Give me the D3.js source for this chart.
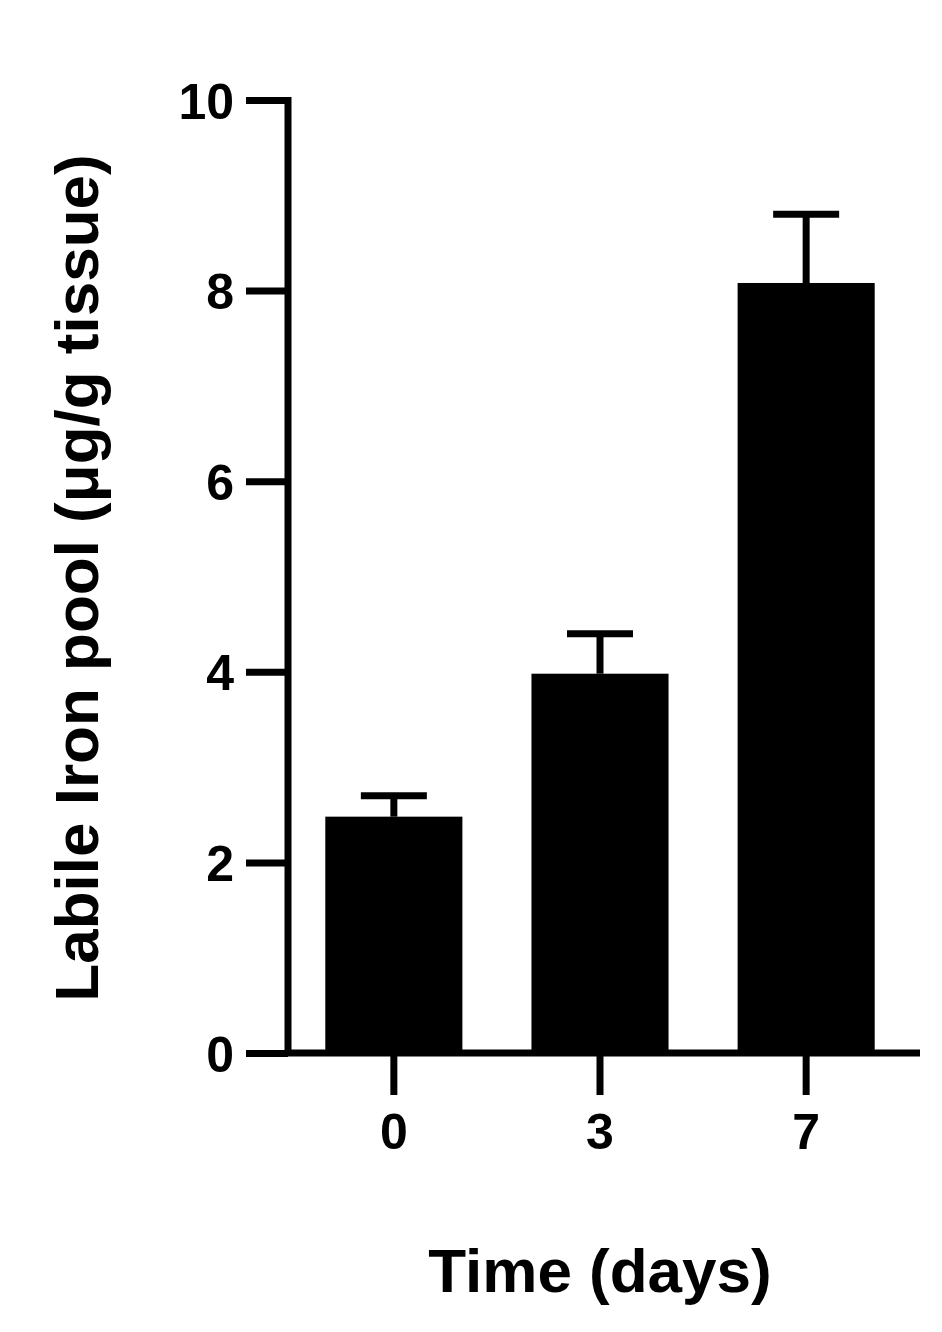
<!DOCTYPE html>
<html><head><meta charset="utf-8">
<script src="https://cdn.jsdelivr.net/npm/d3@7"></script>
<style>body{margin:0;background:#fff}</style>
</head><body>
<svg id="c" width="942" height="1332"></svg>
<script>
const categories = ["0","3","7"];
const means = [2.48, 3.98, 8.08];
const errs = [0.22, 0.42, 0.72];
const yTicks = [0,2,4,6,8,10];

const svg = d3.select("#c");
const font = "'Liberation Sans', Arial, sans-serif";
const y = d3.scaleLinear().domain([0,10]).range([1053,100]);
const x = d3.scaleBand().domain(categories).range([315,885]).paddingInner(0.335).paddingOuter(0.05);
const lw = 7;

const g = svg.append("g");
// bars
g.selectAll("rect.bar").data(categories).join("rect")
  .attr("x", d=>x(d)).attr("width", x.bandwidth())
  .attr("y", (d,i)=>y(means[i])).attr("height",(d,i)=>y(0)-y(means[i]))
  .attr("fill","#000");
// error bars
categories.forEach((c,i)=>{
  const cx = x(c)+x.bandwidth()/2;
  g.append("line").attr("x1",cx).attr("x2",cx).attr("y1",y(means[i])).attr("y2",y(means[i]+errs[i]))
    .attr("stroke","#000").attr("stroke-width",lw);
  g.append("line").attr("x1",cx-33).attr("x2",cx+33).attr("y1",y(means[i]+errs[i])).attr("y2",y(means[i]+errs[i]))
    .attr("stroke","#000").attr("stroke-width",lw);
});
// y axis
const ya = svg.append("g").attr("transform","translate(288,0)")
  .call(d3.axisLeft(y).tickValues(yTicks).tickSize(42).tickPadding(12));
ya.select(".domain").attr("d",`M0,${y(10)-3}V${y(0)+3}`);
// x axis
const xa = svg.append("g").attr("transform","translate(0,1053)")
  .call(d3.axisBottom(x).tickSize(42).tickPadding(18));
xa.select(".domain").attr("d","M285,0H920");
[ya,xa].forEach(a=>{
  a.selectAll("path,line").attr("stroke","#000").attr("stroke-width",lw);
  a.selectAll("text").attr("font-family",font).attr("font-weight","bold").attr("font-size",50).attr("fill","#000");
});
ya.selectAll("text").attr("dy","0.36em");
// titles
svg.append("text").attr("x",600).attr("y",1292).attr("text-anchor","middle")
  .attr("font-family",font).attr("font-weight","bold").attr("font-size",62).text("Time (days)");
svg.append("text").attr("transform","translate(98,578) rotate(-90)").attr("text-anchor","middle")
  .attr("font-family",font).attr("font-weight","bold").attr("font-size",62).text("Labile Iron pool (μg/g tissue)");
</script>
</body></html>
